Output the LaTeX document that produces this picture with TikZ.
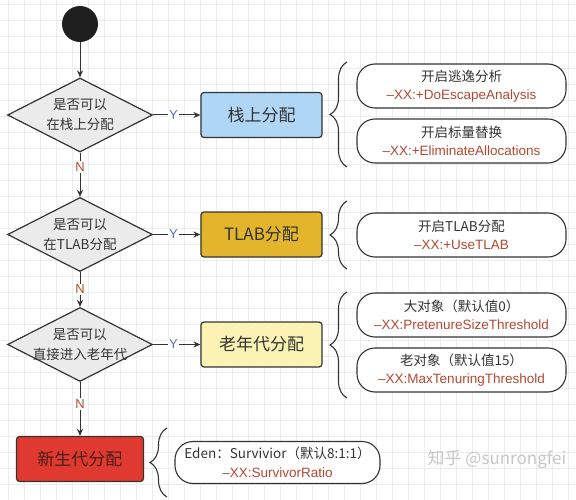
\documentclass[tikz,border=0pt]{standalone}
\usepackage{fontspec}
\setmainfont{Noto Sans CJK SC}
\newfontfamily\latinfont{Liberation Sans}
\usetikzlibrary{shapes.geometric,arrows.meta,decorations.pathreplacing}
\definecolor{lineGray}{HTML}{333333}
\definecolor{gridGray}{HTML}{ECECEC}
\definecolor{diaFill}{HTML}{EBEBEB}
\definecolor{stackBlue}{HTML}{B0D6F5}
\definecolor{tlabGold}{HTML}{E3B52C}
\definecolor{oldYellow}{HTML}{FBF3B4}
\definecolor{youngRed}{HTML}{E0392F}
\definecolor{youngText}{HTML}{4A1E1A}
\definecolor{optRed}{HTML}{B24A32}
\definecolor{yesBlue}{HTML}{5B6FB0}
\definecolor{noBrown}{HTML}{B0502C}
\newcommand{\flag}[1]{{\latinfont\color{optRed}#1}}

\begin{document}
\begin{tikzpicture}[x=1pt, y=-1pt,
    decision/.style={diamond, draw=lineGray, line width=1.2pt, fill=diaFill,
        minimum width=145pt, minimum height=74pt, inner sep=0pt},
    dtext/.style={align=center, text=lineGray, font=\fontsize{13.5}{20}\selectfont},
    allocbox/.style={rectangle, rounded corners=3pt, draw=lineGray, line width=1.2pt,
        minimum width=121pt, minimum height=45pt, text=lineGray, font=\fontsize{17}{20}\selectfont},
    optbox/.style={rectangle, rounded corners=18pt, draw=lineGray, line width=1.1pt, fill=white,
        minimum width=209pt, minimum height=44pt, align=center, text=lineGray,
        font=\fontsize{13.5}{18.5}\selectfont},
    flowline/.style={draw=lineGray, line width=1pt, -{Stealth[length=7pt,width=6pt]}},
    yeslab/.style={fill=white, text=yesBlue, inner sep=1.5pt, font=\latinfont\fontsize{13}{15}\selectfont},
    nolab/.style={fill=white, text=noBrown, inner sep=1.5pt, font=\latinfont\fontsize{13}{15}\selectfont},
    bracegrp/.style={decorate, decoration={brace, amplitude=17pt}, draw=lineGray, line width=1.1pt}
  ]
  \useasboundingbox (0,0) rectangle (576,500);
  \fill[white] (0,0) rectangle (576,500);

  %%%%% grid %%%%%
  \foreach \gx in {8,24,...,576} \draw[gridGray, line width=0.6pt] (\gx,0) -- (\gx,500);
  \foreach \gy in {4,20,...,500} \draw[gridGray, line width=0.6pt] (0,\gy) -- (576,\gy);

  %%%%% decisions %%%%%
  \node[circle, fill=black!88, minimum size=36pt, inner sep=0pt] (start) at (80,24) {};
  \node[decision, label={[dtext]center:{是否可以\\在栈上分配}}] (canStack) at (80,115) {};
  \node[decision, label={[dtext]center:{是否可以\\在TLAB分配}}] (canTlab) at (80,234.5) {};
  \node[decision, label={[dtext]center:{是否可以\\直接进入老年代}}] (canOld) at (80,344.5) {};

  %%%%% allocations %%%%%
  \node[allocbox, fill=stackBlue] (stackAlloc) at (261.5,115) {栈上分配};
  \node[allocbox, fill=tlabGold] (tlabAlloc) at (261.5,234.5) {TLAB分配};
  \node[allocbox, fill=oldYellow] (oldAlloc) at (261.5,344.5) {老年代分配};
  \node[allocbox, fill=youngRed, minimum width=127pt, text=youngText] (youngAlloc) at (80,459) {新生代分配};

  %%%%% options %%%%%
  \node[optbox] (escOpt) at (461.5,86) {开启逃逸分析\\\flag{–XX:+DoEscapeAnalysis}};
  \node[optbox] (elimOpt) at (461.5,141) {开启标量替换\\\flag{–XX:+EliminateAllocations}};
  \node[optbox] (tlabOpt) at (461.5,235) {开启TLAB分配\\\flag{–XX:+UseTLAB}};
  \node[optbox] (bigOpt) at (461.5,315) {大对象（默认值0）\\\flag{–XX:PretenureSizeThreshold}};
  \node[optbox] (ageOpt) at (461.5,370) {老对象（默认值15）\\\flag{–XX:MaxTenuringThreshold}};
  \node[optbox, minimum width=205pt, minimum height=42pt] (edenOpt) at (277.5,462.5) {Eden：Survivior（默认8:1:1）\\\flag{–XX:SurvivorRatio}};

  %%%%% braces %%%%%
  \draw[bracegrp] (347,167) -- (347,62);
  \draw[bracegrp] (347,269) -- (347,201);
  \draw[bracegrp] (347,398) -- (347,292);
  \draw[bracegrp] (167,497) -- (167,428);

  %%%%% flow %%%%%
  \draw[flowline] (start) -- (canStack);
  \draw[flowline] (canStack) -- node[yeslab, pos=0.43] {Y} (stackAlloc);
  \draw[flowline] (canStack) -- node[nolab, pos=0.33] {N} (canTlab);
  \draw[flowline] (canTlab) -- node[yeslab, pos=0.43] {Y} (tlabAlloc);
  \draw[flowline] (canTlab) -- node[nolab, pos=0.5] {N} (canOld);
  \draw[flowline] (canOld) -- node[yeslab, pos=0.43] {Y} (oldAlloc);
  \draw[flowline] (canOld) -- node[nolab, pos=0.4] {N} (youngAlloc);

  \node[text=black!22, font=\fontsize{17}{20}\selectfont] (mark) at (497,459) {知乎 @sunrongfei};
\end{tikzpicture}
\end{document}
